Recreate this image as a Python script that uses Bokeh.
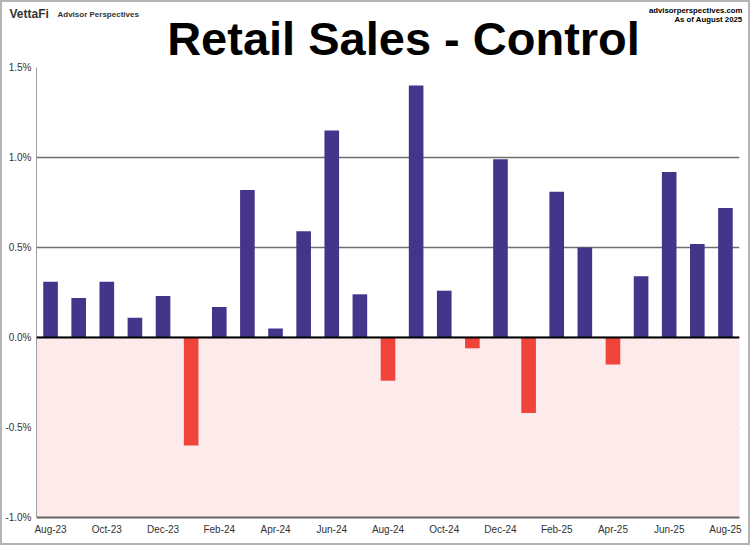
from bokeh.plotting import figure
from bokeh.models import BoxAnnotation, Span, FixedTicker, Range1d
from bokeh.core.properties import value
from bokeh.embed import file_html
from bokeh.resources import INLINE

months = ["Aug-23", "Sep-23", "Oct-23", "Nov-23", "Dec-23", "Jan-24", "Feb-24", "Mar-24",
          "Apr-24", "May-24", "Jun-24", "Jul-24", "Aug-24", "Sep-24", "Oct-24", "Nov-24",
          "Dec-24", "Jan-25", "Feb-25", "Mar-25", "Apr-25", "May-25", "Jun-25", "Jul-25", "Aug-25"]
values = [0.31, 0.22, 0.31, 0.11, 0.23, -0.60, 0.17, 0.82, 0.05, 0.59, 1.15, 0.24, -0.24,
          1.40, 0.26, -0.06, 0.99, -0.42, 0.81, 0.50, -0.15, 0.34, 0.92, 0.52, 0.72]
y_ticks = [-1.0, -0.5, 0.0, 0.5, 1.0, 1.5]
y_tick_labels = ["-1.0%", "-0.5%", "0.0%", "0.5%", "1.0%", "1.5%"]
title_text = "Retail Sales - Control"
brand_text = "VettaFi"
brand_sub = "Advisor Perspectives"
site_text = "advisorperspectives.com"
date_text = "As of August 2025"

POS = "#45358A"
NEG = "#F0443A"
FONT = "Liberation Sans"
EDGE = "#B4B4B4"

HEAD_H = 67
OVERLAP = 8

# ---------- header (frame covers whole header; data units = pixels) ----------
h = figure(width=750, height=HEAD_H, output_backend="svg", toolbar_location=None,
           x_range=Range1d(0, 750), y_range=Range1d(HEAD_H, 0),
           x_axis_location=None, y_axis_location=None,
           min_border_left=0, min_border_right=0, min_border_top=0, min_border_bottom=0)
h.grid.visible = False
h.outline_line_color = None
h.background_fill_alpha = 0
h.border_fill_alpha = 0
h.styles = {"background-color": "white",
            "box-shadow": f"inset 2px 0 0 {EDGE}, inset -2px 0 0 {EDGE}, inset 0 2px 0 {EDGE}"}

h.text(x=[403], y=[37.5], text=[title_text], text_font=value(FONT), text_font_style="bold",
       text_font_size="47px", text_align="center", text_baseline="alphabetic", text_color="black")
h.text(x=[9], y=[13], text=[brand_text], text_font=value(FONT), text_font_style="bold",
       text_font_size="12px", text_align="left", text_baseline="alphabetic", text_color="#333333")
h.text(x=[57], y=[14.4], text=[brand_sub], text_font=value(FONT), text_font_style="bold",
       text_font_size="8px", text_align="left", text_baseline="alphabetic", text_color="#333333")
h.text(x=[742, 742], y=[10.4, 18.9], text=[site_text, date_text], text_font=value(FONT),
       text_font_style="bold", text_font_size="7.8px", text_align="right",
       text_baseline="alphabetic", text_color="black")

# ---------- main chart (overlaps header by OVERLAP px, transparent border area) ----------
p = figure(width=750, height=545 - HEAD_H + OVERLAP, output_backend="svg", toolbar_location=None,
           x_range=Range1d(-0.5, len(months) - 0.5), y_range=Range1d(-1.0, 1.5),
           min_border_left=36, min_border_right=11, min_border_top=OVERLAP, min_border_bottom=28)
p.outline_line_color = None
p.background_fill_color = "white"
p.border_fill_alpha = 0
p.styles = {"margin-top": f"-{OVERLAP}px",
            "box-shadow": f"inset 2px 0 0 {EDGE}, inset -2px 0 0 {EDGE}, inset 0 -2px 0 {EDGE}"}

p.add_layout(BoxAnnotation(top=0, fill_color="#FDEAEA", fill_alpha=1.0, line_color=None,
                           level="underlay"))

xs = list(range(len(months)))
colors = [POS if v >= 0 else NEG for v in values]
p.vbar(x=xs, top=values, bottom=0, width=0.52, fill_color=colors, line_color=None)

p.add_layout(Span(location=0, dimension="width", line_color="black", line_width=2))

p.xaxis.ticker = FixedTicker(ticks=xs[::2])
p.xaxis.major_label_overrides = {i: months[i] for i in xs[::2]}
p.yaxis.ticker = FixedTicker(ticks=y_ticks)
p.yaxis.major_label_overrides = {t: l for t, l in zip(y_ticks, y_tick_labels)}
for ax in (p.xaxis[0], p.yaxis[0]):
    ax.major_tick_out = 0
    ax.major_tick_in = 0
    ax.minor_tick_out = 0
    ax.minor_tick_in = 0
    ax.major_label_text_font = FONT
    ax.major_label_text_font_size = "10px"
    ax.major_label_text_color = "#333333"
p.xaxis.axis_line_color = "#666666"
p.xaxis.axis_line_width = 2
p.yaxis.axis_line_color = "#A0A0A0"
p.yaxis.major_label_standoff = 5
p.xaxis.major_label_standoff = 6
p.xgrid.grid_line_color = None
p.ygrid.grid_line_color = "#6E6E6E"
p.ygrid.grid_line_width = 1.5

open("out.html", "w").write(file_html([h, p], INLINE))
